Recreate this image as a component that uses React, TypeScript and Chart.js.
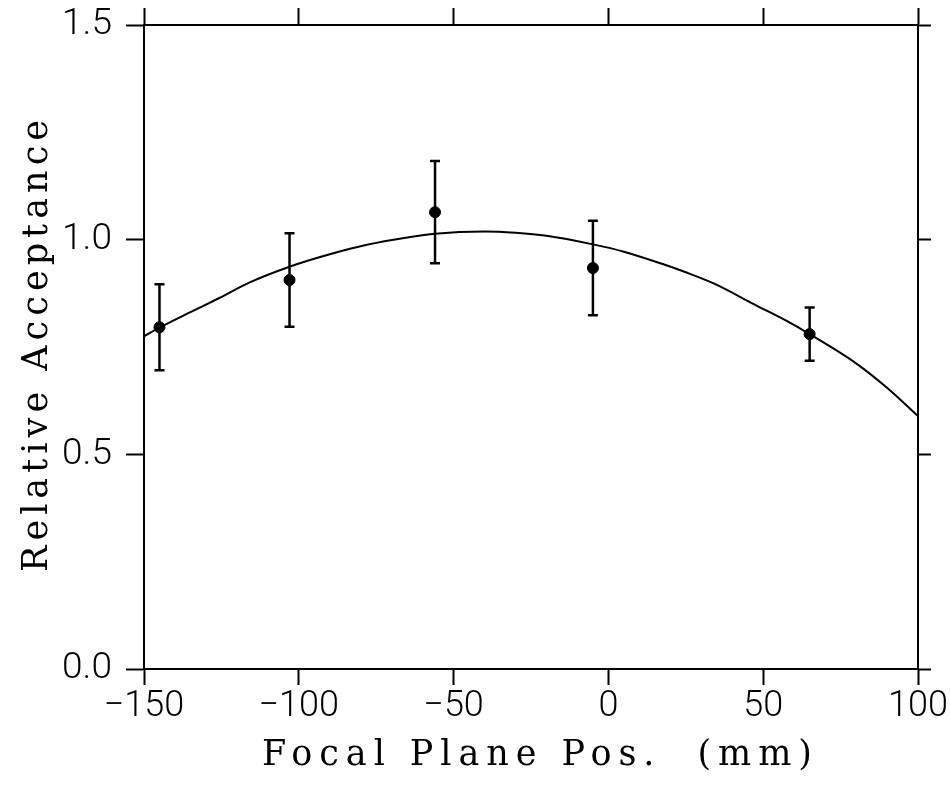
import React, { useEffect, useRef } from "react";
import { Chart, registerables } from "chart.js";

Chart.register(...registerables);

// Measured data points (Focal plane position in mm, relative acceptance, symmetric error)
const pointX = [-145, -103, -56, -5, 65];
const pointY = [0.796, 0.906, 1.064, 0.934, 0.78];
const pointErr = [0.1, 0.109, 0.119, 0.11, 0.062];

// Fitted curve
const curveX = [-150, -145, -135, -126, -116, -103, -90, -78, -65, -56, -40, -30, -20, -5, 5, 18, 25, 34, 48, 57, 65, 80, 90, 100];
const curveY = [0.775, 0.795, 0.831, 0.863, 0.9, 0.937, 0.966, 0.988, 1.005, 1.014, 1.019, 1.016, 1.009, 0.989, 0.972, 0.942, 0.924, 0.898, 0.846, 0.813, 0.78, 0.712, 0.655, 0.589];

const xTicks = [-150, -100, -50, 0, 50, 100];
const yTicks = [0, 0.5, 1.0, 1.5];

const xTitle = "Focal Plane Pos.  (mm)";
const yTitle = "Relative Acceptance";

const xTickFont = { family: "Roboto", size: 36, weight: "300" as any };
const yTickFont = { family: "Roboto", size: 37, weight: "300" as any, lineHeight: 0.5 };
const titleFont = "35px 'DejaVu Serif'";

const errorBarPlugin = {
  id: "errorBars",
  afterDatasetsDraw(chart: any) {
    const ctx = chart.ctx;
    const xs = chart.scales.x;
    const ys = chart.scales.y;
    ctx.save();
    ctx.strokeStyle = "#000";
    ctx.lineWidth = 2.5;
    for (let i = 0; i < pointX.length; i++) {
      const px = xs.getPixelForValue(pointX[i]);
      const top = ys.getPixelForValue(pointY[i] + pointErr[i]);
      const bot = ys.getPixelForValue(pointY[i] - pointErr[i]);
      ctx.beginPath();
      ctx.moveTo(px, top);
      ctx.lineTo(px, bot);
      ctx.moveTo(px - 5, top);
      ctx.lineTo(px + 5, top);
      ctx.moveTo(px - 5, bot);
      ctx.lineTo(px + 5, bot);
      ctx.stroke();
    }
    ctx.restore();
  },
};

// Draws the axis titles in a wide-spaced serif, like the plotter lettering
function drawSpaced(ctx: any, text: string, cx: number, baseline: number, targetWidth: number) {
  ctx.font = titleFont;
  (ctx as any).letterSpacing = "0px";
  const w0 = ctx.measureText(text).width;
  const sp = (targetWidth - w0) / (text.length - 1);
  (ctx as any).letterSpacing = sp + "px";
  ctx.textAlign = "left";
  ctx.textBaseline = "alphabetic";
  ctx.fillText(text, cx - targetWidth / 2, baseline);
  (ctx as any).letterSpacing = "0px";
}

const titlePlugin = {
  id: "spacedTitles",
  afterDraw(chart: any) {
    const ctx = chart.ctx;
    const area = chart.chartArea;
    ctx.save();
    ctx.fillStyle = "#000";
    drawSpaced(ctx, xTitle, (area.left + area.right) / 2 + 6, area.bottom + 96, 550);
    ctx.restore();
    ctx.save();
    ctx.fillStyle = "#000";
    ctx.translate(area.left - 97, (area.top + area.bottom) / 2 - 1);
    ctx.rotate(-Math.PI / 2);
    drawSpaced(ctx, yTitle, 0, 0, 452);
    ctx.restore();
  },
};

export default function App() {
  const ref = useRef<HTMLCanvasElement>(null);
  useEffect(() => {
    if (!ref.current) return;
    const border = { display: true, color: "#000", width: 2 };
    const chart = new Chart(ref.current, {
      type: "scatter",
      data: {
        datasets: [
          {
            type: "line",
            data: curveX.map((x, i) => ({ x, y: curveY[i] })),
            borderColor: "#000",
            borderWidth: 2,
            pointRadius: 0,
            cubicInterpolationMode: "monotone",
            fill: false,
            xAxisID: "x",
            yAxisID: "y",
          } as any,
          {
            type: "scatter",
            data: pointX.map((x, i) => ({ x, y: pointY[i] })),
            backgroundColor: "#000",
            borderColor: "#000",
            pointRadius: 5.5,
            xAxisID: "x",
            yAxisID: "y",
          },
        ],
      },
      options: {
        animation: false,
        responsive: false,
        layout: { padding: 0 },
        plugins: { legend: { display: false }, tooltip: { enabled: false } },
        scales: {
          x: {
            type: "linear",
            position: "bottom",
            min: -150,
            max: 100,
            afterBuildTicks: (s: any) => { s.ticks = xTicks.map((v) => ({ value: v })); },
            ticks: {
              color: "#000",
              font: xTickFont,
              padding: 0,
              maxRotation: 0,
              autoSkip: false,
              callback: (v: any) => (Number(v) < 0 ? "\u2212" + Math.abs(Number(v)) : String(v)),
            },
            grid: { drawOnChartArea: false, drawTicks: true, tickLength: 16, tickWidth: 2, tickColor: "#000" },
            afterFit: (s: any) => { s.height = 116; },
            border,
          } as any,
          x2: {
            type: "linear",
            position: "top",
            min: -150,
            max: 100,
            afterBuildTicks: (s: any) => { s.ticks = xTicks.map((v) => ({ value: v })); },
            ticks: { display: false },
            grid: { drawOnChartArea: false, drawTicks: true, tickLength: 17, tickWidth: 2, tickColor: "#000" },
            afterFit: (s: any) => { s.height = 25; },
            border,
          } as any,
          y: {
            type: "linear",
            position: "left",
            min: 0,
            max: 1.5,
            afterBuildTicks: (s: any) => { s.ticks = yTicks.map((v) => ({ value: v })); },
            ticks: {
              color: "#000",
              font: yTickFont,
              padding: 14,
              callback: (v: any) => Number(v).toFixed(1),
            },
            grid: { drawOnChartArea: false, drawTicks: true, tickLength: 18, tickWidth: 2, tickColor: "#000" },
            afterFit: (s: any) => { s.width = 144; },
            border,
          } as any,
          y2: {
            type: "linear",
            position: "right",
            min: 0,
            max: 1.5,
            afterBuildTicks: (s: any) => { s.ticks = yTicks.map((v) => ({ value: v })); },
            ticks: { display: false },
            grid: { drawOnChartArea: false, drawTicks: true, tickLength: 13, tickWidth: 2, tickColor: "#000" },
            afterFit: (s: any) => { s.width = 32; },
            border,
          } as any,
        },
      },
      plugins: [errorBarPlugin, titlePlugin],
    });
    return () => chart.destroy();
  }, []);

  return (
    <div style={{ position: "absolute", left: 0, top: 0, width: 950, height: 785, background: "#fff" }}>
      <canvas ref={ref} width={950} height={785} style={{ width: 950, height: 785 }} />
    </div>
  );
}
